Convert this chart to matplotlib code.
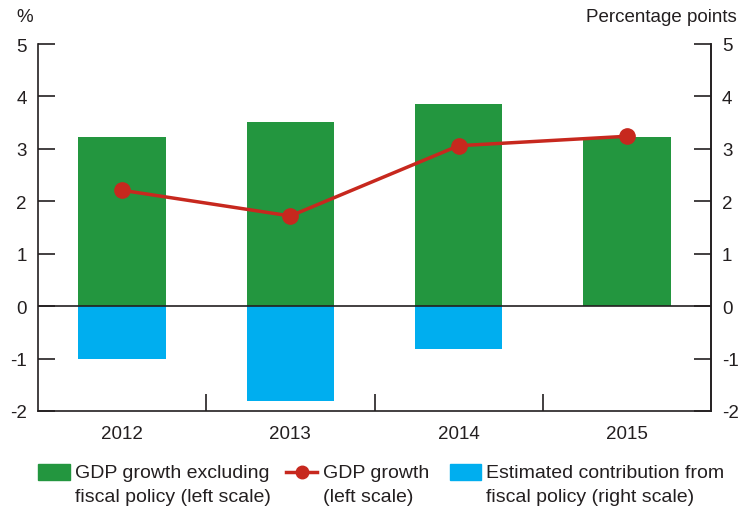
import matplotlib
matplotlib.use("Agg")
import matplotlib.pyplot as plt
from matplotlib.patches import Rectangle
from matplotlib.lines import Line2D
import numpy as np

plt.rcParams['font.family'] = ['Liberation Sans', 'DejaVu Sans']

years = ['2012', '2013', '2014', '2015']
gdp_ex_fiscal = [3.22, 3.51, 3.85, 3.22]
fiscal_contrib = [-1.0, -1.8, -0.81, 0.0]
gdp_growth = [2.21, 1.72, 3.06, 3.24]
yticks = [-2, -1, 0, 1, 2, 3, 4, 5]

GREEN = '#23963f'
BLUE = '#00aeef'
RED = '#c7281e'
TXT = '#231f20'
FS = 13.5
LFS = 14

W, H = 739, 510
fig = plt.figure(figsize=(W/100, H/100), dpi=100)
ax = fig.add_axes([38/W, 1-412/H, (711-38)/W, (412-45)/H])
x = np.arange(len(years))
ax.bar(x, gdp_ex_fiscal, width=0.52, color=GREEN, zorder=2)
ax.bar(x, fiscal_contrib, width=0.52, color=BLUE, zorder=2)
ax.axhline(0, color=TXT, lw=1.2, zorder=3)
ax.plot(x, gdp_growth, color=RED, lw=2.5, marker='o', ms=11, zorder=4)

ax.set_xlim(-0.5, len(years)-0.5)
ax.set_ylim(-2, 5)
ax.set_yticks(yticks)
ax.set_yticklabels([str(v) for v in yticks])
ax.set_xticks(x)
ax.set_xticklabels(years)
ax.tick_params(axis='x', length=0, pad=10, labelsize=FS, colors=TXT)
ax.set_xticks(np.arange(0.5, len(years)-0.5, 1), minor=True)
ax.tick_params(axis='x', which='minor', direction='in', length=12, width=1.2, color=TXT)
ax.tick_params(axis='y', direction='in', length=12, width=1.2, labelsize=FS, colors=TXT, pad=8)
for s in ['left', 'right', 'bottom']:
    ax.spines[s].set_linewidth(1.2)
    ax.spines[s].set_color(TXT)
ax.spines['top'].set_visible(False)

ax2 = ax.twinx()
ax2.set_ylim(-2, 5)
ax2.set_yticks(yticks)
ax2.set_yticklabels([str(v) for v in yticks])
ax2.tick_params(axis='y', direction='in', length=12, width=1.2, labelsize=FS, colors=TXT, pad=8)
for s in ['top', 'left', 'bottom']:
    ax2.spines[s].set_visible(False)
ax2.spines['right'].set_linewidth(1.2)
ax2.spines['right'].set_color(TXT)

fig.text(16/W, 1-17/H, '%', fontsize=FS, color=TXT, va='center', ha='left')
fig.text(737/W, 1-17/H, 'Percentage points', fontsize=FS, color=TXT, va='center', ha='right')

# legend
def ft(px, py):
    return px/W, 1-py/H
fig.patches.append(Rectangle(ft(38, 481), 32/W, 16/H, transform=fig.transFigure, color=GREEN))
fig.text(*ft(75, 465), 'GDP growth excluding\nfiscal policy (left scale)', fontsize=LFS, color=TXT,
         va='top', ha='left', linespacing=1.55)
fig.lines.append(Line2D([286/W, 301.5/W, 317/W], [1-473/H]*3, transform=fig.transFigure, color=RED, lw=2.5,
                        marker='o', ms=9, markevery=[1]))
fig.text(*ft(323, 465), 'GDP growth\n(left scale)', fontsize=LFS, color=TXT, va='top', ha='left', linespacing=1.55)
fig.patches.append(Rectangle(ft(450, 481), 31/W, 16/H, transform=fig.transFigure, color=BLUE))
fig.text(*ft(486, 465), 'Estimated contribution from\nfiscal policy (right scale)', fontsize=LFS, color=TXT,
         va='top', ha='left', linespacing=1.55)

fig.savefig('out.png', dpi=100)
